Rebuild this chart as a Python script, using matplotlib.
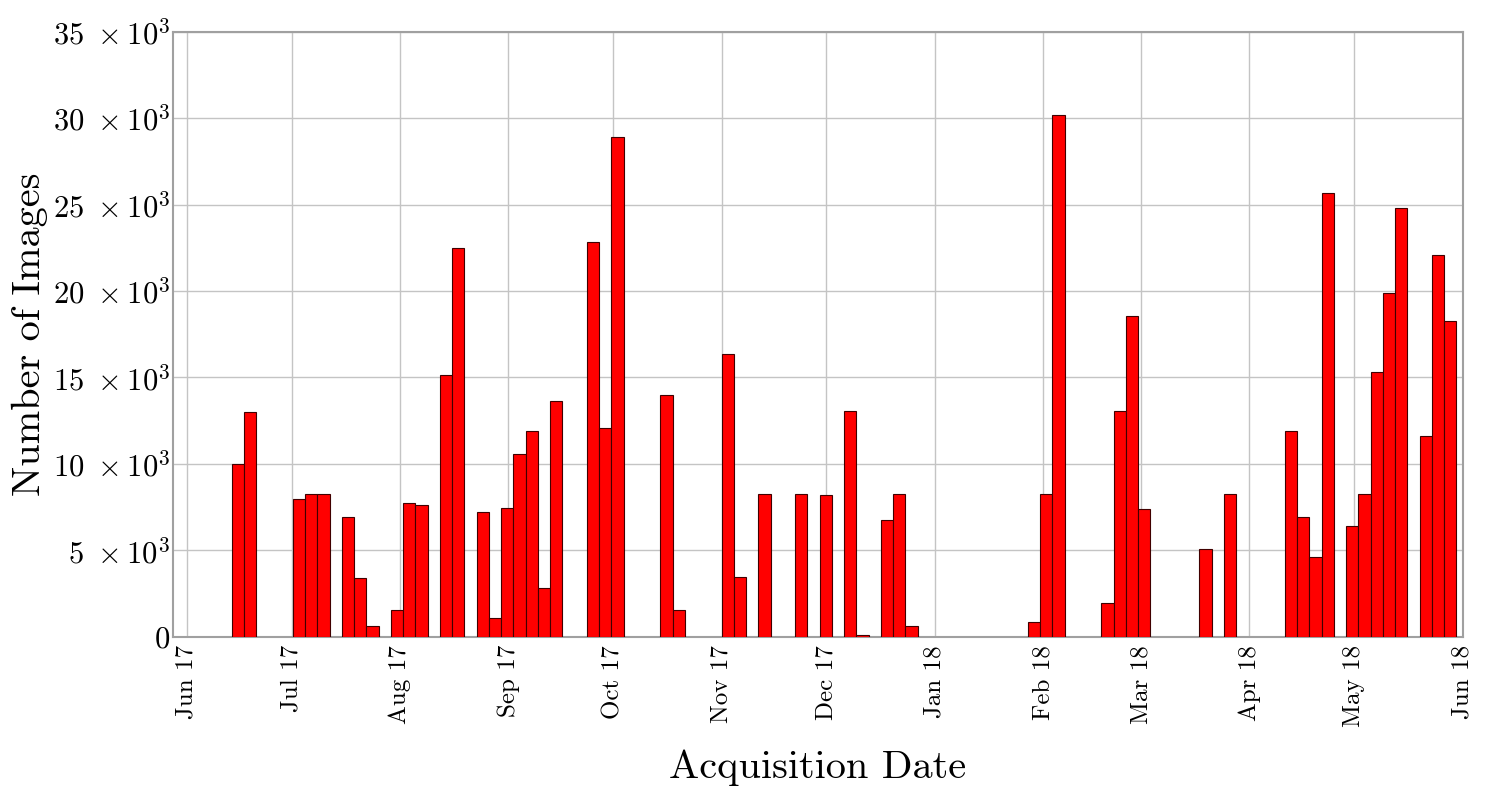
import matplotlib
matplotlib.use("Agg")
import matplotlib.pyplot as plt
import matplotlib.dates as mdates
import numpy as np
import pandas as pd

plt.rcParams.update(
    {
        "font.family": "serif",
        "font.serif": ["cmr10", "DejaVu Serif"],
        "mathtext.fontset": "cm",
        "axes.formatter.use_mathtext": True,
        "axes.unicode_minus": False,
    }
)

# histogram: 100 equal bins between the first and last acquisition
BIN_START = "2017-06-13 21:00"
BIN_END = "2018-05-30 05:00"
N_BINS = 100
# only non-empty bins are listed (bin index -> number of images)
BIN_IDX = [0, 1, 5, 6, 7, 9, 10, 11, 13, 14, 15, 17, 18, 20, 21, 22, 23, 24, 25, 26,
           29, 30, 31, 35, 36, 40, 41, 43, 46, 48, 50, 51, 53, 54, 55,
           65, 66, 67, 71, 72, 73, 74, 79, 81,
           86, 87, 88, 89, 91, 92, 93, 94, 95, 97, 98, 99]
COUNTS = [10000, 13000, 7950, 8240, 8240, 6900, 3410, 620, 1540, 7710, 7600, 15140, 22460,
          7190, 1060, 7430, 10570, 11900, 2800, 13630,
          22810, 12090, 28880, 14000, 1540, 16330, 3470, 8240, 8240, 8200, 13070, 100,
          6750, 8240, 640,
          820, 8270, 30200, 1940, 13060, 18570, 7390, 5060, 8270,
          11920, 6940, 4630, 25680, 6400, 8230, 15310, 19900, 24780, 11610, 22080, 18260]

X_MIN = "2017-05-28 02:00"
X_MAX = "2018-06-01"
Y_TICKS = [0, 5000, 10000, 15000, 20000, 25000, 30000, 35000]

fig = plt.figure(figsize=(14.85, 7.86), dpi=100)
ax = fig.add_axes([0.1165, 0.19, 0.985 - 0.1165, 0.9597 - 0.19])

t0 = mdates.date2num(pd.Timestamp(BIN_START))
t1 = mdates.date2num(pd.Timestamp(BIN_END))
edges = np.linspace(t0, t1, N_BINS + 1)
width = edges[1] - edges[0]
ax.bar(edges[BIN_IDX], COUNTS, width=width, align="edge",
       color="#ff0000", edgecolor="#400000", linewidth=0.8, zorder=3)

ax.set_xlim(mdates.date2num(pd.Timestamp(X_MIN)), mdates.date2num(pd.Timestamp(X_MAX)))
ax.set_ylim(0, 35000)

ax.xaxis.set_major_locator(mdates.MonthLocator())
ax.xaxis.set_major_formatter(mdates.DateFormatter("%b %y"))
plt.setp(ax.get_xticklabels(), rotation=90, fontsize=18)

ax.set_yticks(Y_TICKS)
ax.set_yticklabels(["0"] + [rf"${v // 1000}\ \times 10^{{3}}$" for v in Y_TICKS[1:]], fontsize=22)

ax.tick_params(axis="y", length=0, pad=2)
ax.tick_params(axis="x", length=0, pad=6)
ax.grid(True, color="#c4c4c4", linewidth=1.0, zorder=0)
ax.set_axisbelow(True)
for s in ax.spines.values():
    s.set_color("#a0a0a0")
    s.set_linewidth(1.5)

ax.set_ylabel("Number of Images", fontsize=29, labelpad=3)
ax.set_xlabel("Acquisition Date", fontsize=29, labelpad=16)

fig.savefig("out.png", dpi=100)
